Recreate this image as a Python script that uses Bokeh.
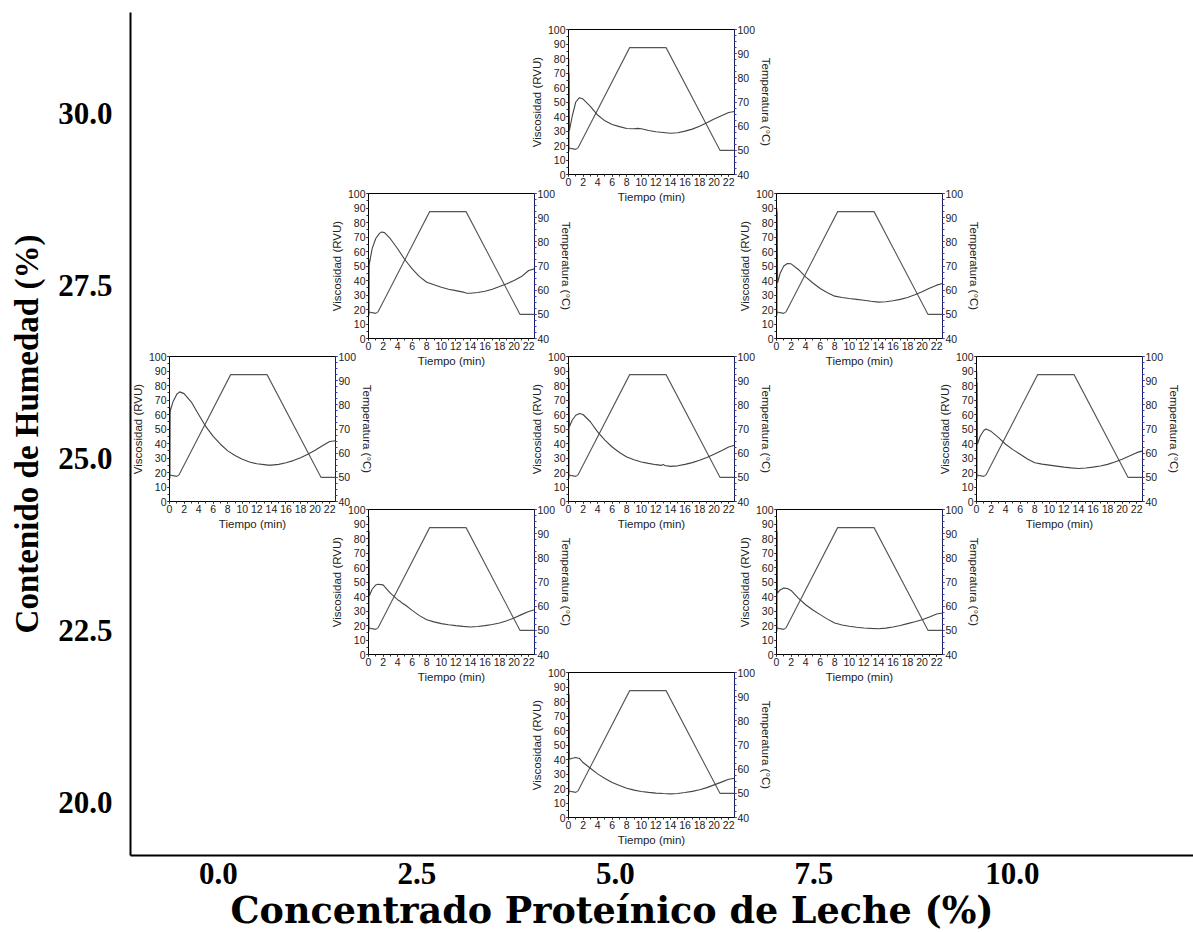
from bokeh.plotting import figure
from bokeh.models import (Range1d, LinearAxis, SingleIntervalTicker, FixedTicker,
                          NumeralTickFormatter, GridBox, Title)
from bokeh.embed import file_html
from bokeh.resources import INLINE

# ---------------- data ----------------
pc_ticks = [0.0, 2.5, 5.0, 7.5, 10.0]          # Concentrado Proteínico de Leche (%)
mc_ticks = [20.0, 22.5, 25.0, 27.5, 30.0]      # Contenido de Humedad (%)

# temperature profile of the RVA run (min, °C)
temp_time = [0, 0.3, 1.0, 1.3, 8.4, 13.4, 20.8, 22.8]
temp_value = [51, 50.8, 50.4, 51, 92.5, 92.5, 50, 50]

# viscosity curves (min, RVU), one per (humedad, proteina) point
t_30_5 = [0, 0.03, 0.06, 0.09, 0.12, 0.5, 1.0, 1.5, 2, 3, 4, 5, 6, 7, 8, 9, 9.5, 10, 11, 12, 13, 14, 15, 16, 17, 18, 19, 20, 21, 22, 22.8]
v_30_5 = [15, 80, 16, 70, 30, 40, 50, 53, 52, 47, 41, 37, 34.5, 33, 31.7, 31.5, 31.8, 31.5, 30.3, 29.5, 29, 28.5, 28.8, 29.9, 31.3, 33.3, 35.7, 38.2, 40.5, 42.8, 43.4]

t_275_25 = [0, 0.03, 0.06, 0.09, 0.12, 0.5, 1, 1.5, 1.8, 2.2, 3, 4, 5, 6, 7, 8, 9, 10, 11, 12, 13, 13.5, 14, 15, 16, 17, 18, 19, 20, 21, 22, 22.8]
v_275_25 = [15, 55, 16, 50, 51.5, 62, 69, 72.5, 73.4, 73, 68.8, 61.9, 54.3, 48, 42.7, 38.8, 37, 35.3, 34, 33, 32, 31.2, 31.2, 31.7, 32.6, 34, 35.8, 37.8, 40, 42.7, 46.9, 48]

t_275_75 = [0, 0.03, 0.06, 0.09, 0.15, 0.5, 1, 1.5, 2, 3, 4, 5, 6, 7, 8, 9, 10, 11, 12, 13, 14, 15, 16, 17, 18, 19, 20, 21, 22, 22.8]
v_275_75 = [15, 90, 16, 88, 38.4, 45, 50, 51.7, 51.5, 47.6, 42.5, 38.3, 34.5, 31.6, 29.2, 28.3, 27.6, 27, 26.4, 25.7, 25.1, 25.3, 26, 27, 28.3, 30.1, 32.2, 34.7, 36.8, 37.9]

t_25_0 = [0, 0.03, 0.06, 0.09, 0.12, 0.5, 1, 1.4, 2, 3, 4, 5, 6, 7, 8, 9, 10, 11, 12, 13, 13.5, 14, 15, 16, 17, 18, 19, 20, 21, 22, 22.8]
v_25_0 = [15, 65, 16, 60, 62.8, 69, 74, 75.6, 74.4, 68.6, 60, 51.6, 44.9, 39.5, 34.9, 31.7, 29.1, 27.3, 26, 25.4, 25.1, 25.1, 25.6, 26.7, 28.2, 30.2, 32.6, 35.3, 38.4, 41.4, 41.9]

t_25_5 = [0, 0.03, 0.06, 0.09, 0.12, 0.5, 1, 1.5, 2, 3, 4, 5, 6, 7, 8, 9, 10, 11, 12, 12.8, 13, 13.2, 14, 15, 16, 17, 18, 19, 20, 21, 22, 22.8]
v_25_5 = [15, 93, 16, 85, 51.5, 56, 59.5, 60.7, 60, 55, 48, 42.3, 37.6, 33.8, 30.7, 28.8, 27.3, 26.3, 25.4, 24.9, 25.6, 24.8, 24.2, 24.6, 25.6, 26.8, 28.4, 30.4, 32.6, 35, 37.6, 38.8]

t_25_10 = [0, 0.03, 0.06, 0.09, 0.12, 0.5, 1, 1.3, 2, 3, 4, 5, 6, 7, 8, 9, 10, 11, 12, 13, 14, 15, 16, 17, 18, 19, 20, 21, 22, 22.8]
v_25_10 = [15, 90, 16, 82, 39.5, 45, 49, 50, 48.4, 44.2, 39.5, 35.8, 32.6, 29.3, 26.7, 25.8, 25.1, 24.4, 23.7, 23.2, 22.8, 23.1, 23.7, 24.5, 25.6, 27.2, 29.1, 31.3, 33.7, 34.9]

t_225_25 = [0, 0.03, 0.06, 0.09, 0.12, 0.5, 1, 1.3, 2, 3, 4, 4.4, 4.6, 5, 6, 7, 8, 9, 10, 11, 12, 13, 14, 15, 16, 17, 18, 19, 20, 21, 22, 22.8]
v_225_25 = [15, 95, 16, 85, 40.5, 45, 48, 48.5, 48, 42.3, 37.8, 36.5, 35.5, 34.3, 30.4, 26.8, 24, 22.5, 21.3, 20.5, 19.9, 19.4, 19, 19.3, 19.9, 20.7, 21.7, 23.3, 25.2, 27.5, 29.7, 30.9]

t_225_75 = [0, 0.03, 0.06, 0.09, 0.12, 0.5, 1, 1.5, 2, 3, 4, 5, 6, 7, 8, 9, 10, 11, 12, 13, 14, 15, 16, 17, 18, 19, 20, 21, 22, 22.8]
v_225_75 = [15, 93, 16, 85, 42.3, 44.5, 45.8, 45.5, 44.2, 38.9, 34.3, 30.7, 27.5, 24.4, 21.7, 20.4, 19.5, 18.8, 18.3, 18, 17.8, 18.2, 19, 20, 21.3, 22.6, 24, 25.8, 27.9, 28.6]

t_20_5 = [0, 0.03, 0.06, 0.09, 0.12, 0.5, 1, 1.5, 2, 3, 4, 5, 6, 7, 8, 9, 10, 11, 12, 13, 14, 15, 16, 17, 18, 19, 20, 21, 22, 22.8]
v_20_5 = [15, 95, 16, 85, 40.2, 40.8, 41.4, 40.7, 37.9, 34, 30.1, 26.9, 24.1, 22, 20.2, 18.9, 17.9, 17.3, 16.8, 16.5, 16.3, 16.6, 17.2, 18, 19.1, 20.6, 22.5, 24.4, 26.4, 27.1]

curves = [(t_30_5, v_30_5), (t_275_25, v_275_25), (t_275_75, v_275_75),
          (t_25_0, v_25_0), (t_25_5, v_25_5), (t_25_10, v_25_10),
          (t_225_25, v_225_25), (t_225_75, v_225_75), (t_20_5, v_20_5)]

x_title = "Concentrado Proteínico de Leche (%)"
y_title = "Contenido de Humedad (%)"

# ---------------- layout (page pixels) ----------------
W, H = 1193, 932
IW, IH = 248, 187
inset_pos = [(527, 21), (327, 185), (735, 185),
             (128, 348), (527, 348), (935, 348),
             (327, 501), (735, 501), (527, 664)]

SERIF = "Liberation Serif"
SANS = "Liberation Sans"

# ---------------- main axes ----------------
main = figure(width=W, height=H, x_range=Range1d(-1.108, 12.28),
              y_range=Range1d(19.231, 31.466), output_backend="svg",
              toolbar_location=None, min_border_left=130, min_border_right=0,
              min_border_top=12, min_border_bottom=77)
main.outline_line_color = None
main.grid.visible = False
main.background_fill_color = "white"
for ax in (main.xaxis[0], main.yaxis[0]):
    ax.axis_line_width = 2
    ax.axis_line_color = "black"
    ax.major_tick_line_color = None
    ax.minor_tick_line_color = None
    ax.major_label_text_font = SERIF
    ax.major_label_text_font_style = "bold"
    ax.major_label_text_font_size = "31px"
    ax.major_label_text_color = "black"
    ax.formatter = NumeralTickFormatter(format="0.0")
main.xaxis[0].ticker = FixedTicker(ticks=pc_ticks)
main.yaxis[0].ticker = FixedTicker(ticks=mc_ticks)
main.xaxis[0].major_label_standoff = 1
main.yaxis[0].major_label_standoff = 12
main.yaxis[0].axis_label = y_title
main.yaxis[0].axis_label_text_font = SERIF
main.yaxis[0].axis_label_text_font_style = "bold"
main.yaxis[0].axis_label_text_font_size = "33px"
main.yaxis[0].axis_label_text_color = "black"
main.yaxis[0].axis_label_standoff = 10

main.add_layout(Title(text=x_title, align="left", offset=100, standoff=0,
                      text_font="DejaVu Serif", text_font_style="bold",
                      text_font_size="36.5px", text_color="black"), "below")


# ---------------- insets ----------------
def style_axis(ax, minor_color="#333333", line_color="black"):
    ax.axis_line_color = line_color
    ax.axis_line_width = 1
    ax.major_tick_line_color = line_color
    ax.major_tick_out = 2
    ax.major_tick_in = 0
    ax.minor_tick_line_color = minor_color
    ax.minor_tick_out = 2
    ax.minor_tick_in = 0
    ax.major_label_standoff = 1
    ax.major_label_text_font = SANS
    ax.major_label_text_font_size = "10.5px"
    ax.major_label_text_color = "#222222"
    ax.axis_label_text_font = SANS
    ax.axis_label_text_font_size = "11.5px"
    ax.axis_label_text_font_style = "normal"
    ax.axis_label_text_color = "#222222"
    ax.axis_label_standoff = 2


def make_inset(t, v):
    f = figure(width=IW, height=IH, x_range=Range1d(0, 22.8), y_range=Range1d(0, 100),
               output_backend="svg", toolbar_location=None,
               min_border_left=40, min_border_right=40, min_border_top=8,
               min_border_bottom=34)
    f.border_fill_color = None
    f.background_fill_color = "white"
    f.outline_line_color = "black"
    f.outline_line_width = 1
    f.grid.visible = False
    f.extra_y_ranges = {"temp": Range1d(40, 100)}
    xa = f.xaxis[0]
    ya = f.yaxis[0]
    xa.ticker = SingleIntervalTicker(interval=2, num_minor_ticks=2)
    ya.ticker = SingleIntervalTicker(interval=10, num_minor_ticks=2)
    xa.axis_label = "Tiempo (min)"
    ya.axis_label = "Viscosidad (RVU)"
    ra = LinearAxis(y_range_name="temp", axis_label="Temperatura (°C)",
                    ticker=SingleIntervalTicker(interval=10, num_minor_ticks=4))
    f.add_layout(ra, "right")
    style_axis(xa)
    style_axis(ya)
    style_axis(ra, minor_color="#3344dd", line_color="#1c1c5a")
    f.line(temp_time, temp_value, y_range_name="temp", line_color="#555555", line_width=1.1)
    f.line(t, v, line_color="#444444", line_width=1.1)
    return f


insets = [make_inset(t, v) for (t, v) in curves]

# ---------------- grid with overlapping cells ----------------
boxes = [(main, 0, 0, W, H)]
boxes += [(f, x, y, IW, IH) for f, (x, y) in zip(insets, inset_pos)]

xb = sorted(set([b[1] for b in boxes] + [b[1] + b[3] for b in boxes]))
yb = sorted(set([b[2] for b in boxes] + [b[2] + b[4] for b in boxes]))
cols = [f"{b - a}px" for a, b in zip(xb, xb[1:])]
rows = [f"{b - a}px" for a, b in zip(yb, yb[1:])]

children = []
for f, x, y, w, h in boxes:
    c0, c1 = xb.index(x), xb.index(x + w)
    r0, r1 = yb.index(y), yb.index(y + h)
    children.append((f, r0, c0, r1 - r0, c1 - c0))

layout = GridBox(children=children, rows=rows, cols=cols, spacing=0)

open("out.html", "w").write(file_html(layout, INLINE))
